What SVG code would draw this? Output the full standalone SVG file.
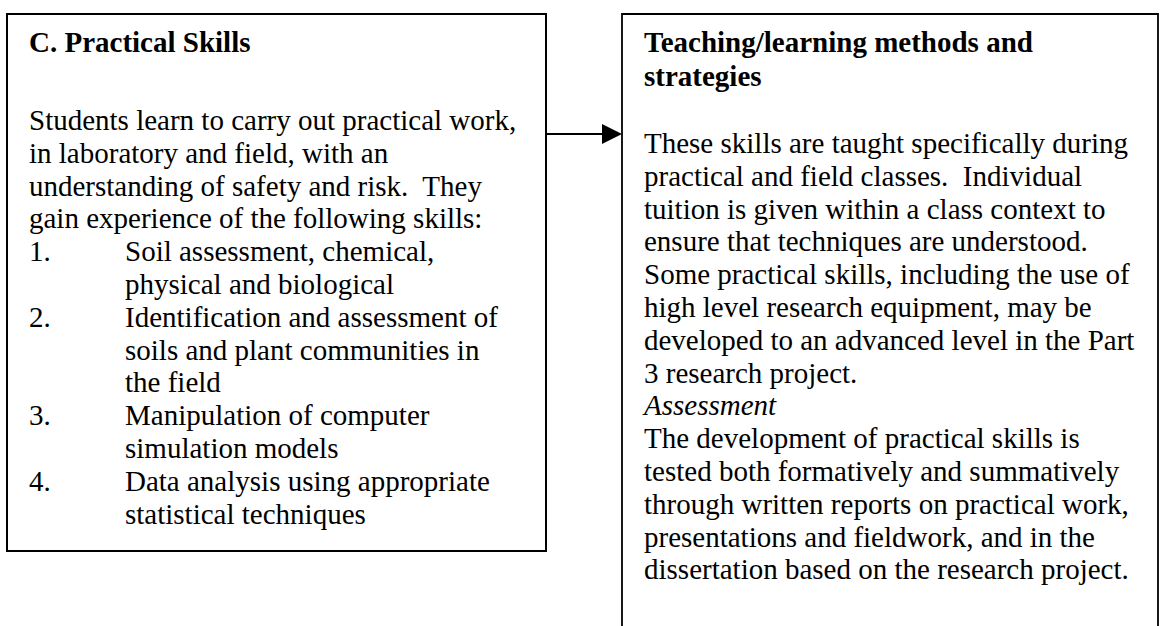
<svg xmlns="http://www.w3.org/2000/svg" width="1161" height="626" viewBox="0 0 1161 626">
<style>
.box{fill:#fff;stroke:#000;stroke-width:2}
.t{font-family:"Liberation Serif","Times New Roman",serif;font-size:29px;fill:#000;white-space:pre}
.b{font-weight:bold}
.i{font-style:italic}
</style>
<rect width="1161" height="626" fill="#fff"/>
<g id="node-practical-skills">
<rect class="box" x="7" y="14" width="539" height="537"/>
<text class="t b" x="29" y="52">C. Practical Skills</text>
<text class="t" x="29" y="130">Students learn to carry out practical work,</text>
<text class="t" x="29" y="162.8">in laboratory and field, with an</text>
<text class="t" x="29" y="195.6">understanding of safety and risk.  They</text>
<text class="t" x="29" y="228.4">gain experience of the following skills:</text>
<text class="t" x="29" y="261.2">1.</text>
<text class="t" x="125" y="261.2">Soil assessment, chemical,</text>
<text class="t" x="125" y="294">physical and biological</text>
<text class="t" x="29" y="326.8">2.</text>
<text class="t" x="125" y="326.8">Identification and assessment of</text>
<text class="t" x="125" y="359.6">soils and plant communities in</text>
<text class="t" x="125" y="392.4">the field</text>
<text class="t" x="29" y="425.2">3.</text>
<text class="t" x="125" y="425.2">Manipulation of computer</text>
<text class="t" x="125" y="458">simulation models</text>
<text class="t" x="29" y="490.8">4.</text>
<text class="t" x="125" y="490.8">Data analysis using appropriate</text>
<text class="t" x="125" y="523.6">statistical techniques</text>
</g>
<g id="node-teaching-methods">
<path d="M622,640 V14 H1158 V640" fill="#fff" stroke="#000" stroke-width="1.8"/>
<text class="t b" x="644" y="52">Teaching/learning methods and</text>
<text class="t b" x="644" y="86">strategies</text>
<text class="t" x="644" y="153">These skills are taught specifically during</text>
<text class="t" x="644" y="185.8">practical and field classes.  Individual</text>
<text class="t" x="644" y="218.6">tuition is given within a class context to</text>
<text class="t" x="644" y="251.4">ensure that techniques are understood.</text>
<text class="t" x="644" y="284.2">Some practical skills, including the use of</text>
<text class="t" x="644" y="317">high level research equipment, may be</text>
<text class="t" x="644" y="349.8">developed to an advanced level in the Part</text>
<text class="t" x="644" y="382.6">3 research project.</text>
<text class="t i" x="644" y="415.4">Assessment</text>
<text class="t" x="644" y="448.2">The development of practical skills is</text>
<text class="t" x="644" y="481">tested both formatively and summatively</text>
<text class="t" x="644" y="513.8">through written reports on practical work,</text>
<text class="t" x="644" y="546.6">presentations and fieldwork, and in the</text>
<text class="t" x="644" y="579.4">dissertation based on the research project.</text>
</g>
<g id="connectors">
<line x1="546" y1="134" x2="603" y2="134" stroke="#000" stroke-width="2"/>
<polygon points="602,124 622,134 602,144" fill="#000"/>
</g>
</svg>
